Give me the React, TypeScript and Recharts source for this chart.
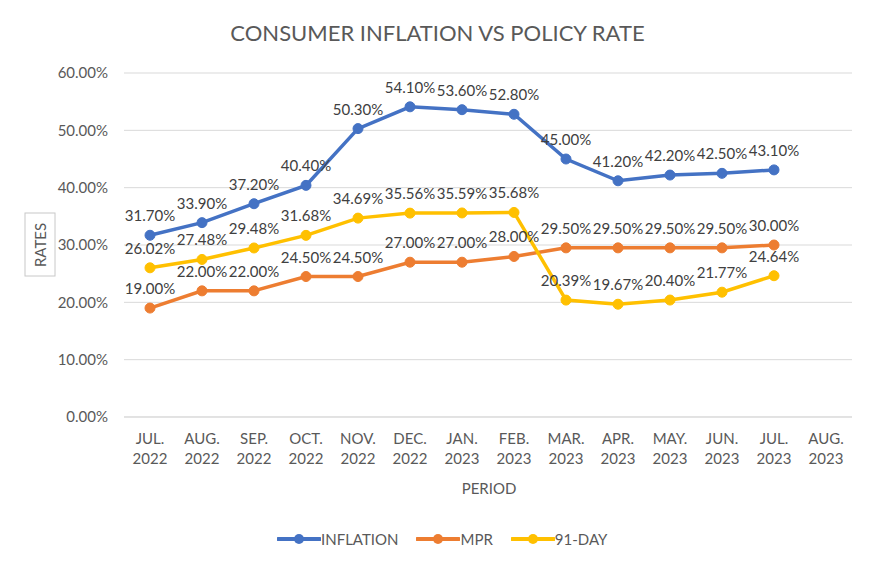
import React from 'react';
import { LineChart, Line, XAxis, YAxis, CartesianGrid, LabelList } from 'recharts';

const FONT = 'Lato, "Open Sans", sans-serif';

const periods = [
  'JUL. 2022', 'AUG. 2022', 'SEP. 2022', 'OCT. 2022', 'NOV. 2022', 'DEC. 2022', 'JAN. 2023',
  'FEB. 2023', 'MAR. 2023', 'APR. 2023', 'MAY. 2023', 'JUN. 2023', 'JUL. 2023', 'AUG. 2023'
];
const inflation = [31.7, 33.9, 37.2, 40.4, 50.3, 54.1, 53.6, 52.8, 45.0, 41.2, 42.2, 42.5, 43.1, null];
const mpr = [19.0, 22.0, 22.0, 24.5, 24.5, 27.0, 27.0, 28.0, 29.5, 29.5, 29.5, 29.5, 30.0, null];
const tbill91 = [26.02, 27.48, 29.48, 31.68, 34.69, 35.56, 35.59, 35.68, 20.39, 19.67, 20.4, 21.77, 24.64, null];
const yTicks = [0, 10, 20, 30, 40, 50, 60];

const series = [
  { key: 'inflation', name: 'INFLATION', color: '#4472C4' },
  { key: 'mpr', name: 'MPR', color: '#ED7D31' },
  { key: 'tbill91', name: '91-DAY', color: '#FFC000' }
];

const data = periods.map((period, i) => ({
  period,
  inflation: inflation[i],
  mpr: mpr[i],
  tbill91: tbill91[i]
}));

const pct = (v: any) => (v == null ? '' : `${Number(v).toFixed(2)}%`);

const PeriodTick = (props: any) => {
  const { x, y, payload } = props;
  const [month, year] = String(payload.value).split(' ');
  return (
    <text x={x} y={y} textAnchor="middle" fill="#595959" fontSize={15} fontFamily={FONT}>
      <tspan x={x} dy={19}>{month}</tspan>
      <tspan x={x} dy={20}>{year}</tspan>
    </text>
  );
};

const LegendItem = ({ name, color }: { name: string; color: string }) => (
  <div style={{ display: 'flex', alignItems: 'center', marginRight: 18 }}>
    <svg width={44} height={12}>
      <line x1={1} y1={6} x2={43} y2={6} stroke={color} strokeWidth={4} strokeLinecap="round" />
      <circle cx={22} cy={6} r={5} fill={color} />
    </svg>
    <span style={{ fontSize: 15, color: '#595959', fontFamily: FONT }}>{name}</span>
  </div>
);

export default function App() {
  return (
    <div style={{ position: 'relative', width: 875, height: 562, background: '#fff', margin: -8, overflow: 'hidden' }}>
      <LineChart width={875} height={562} data={data} margin={{ top: 73, right: 23, bottom: 95, left: 54 }}>
        <CartesianGrid vertical={false} stroke="#d9d9d9" />
        <XAxis
          dataKey="period"
          tick={<PeriodTick />}
          tickLine={false}
          axisLine={{ stroke: '#d9d9d9' }}
          padding={{ left: 26, right: 26 }}
          interval={0}
          height={50}
        />
        <YAxis
          domain={[0, 60]}
          ticks={yTicks}
          tickFormatter={pct}
          tickLine={false}
          axisLine={false}
          tickMargin={10}
          width={70}
          tick={{ fill: '#595959', fontSize: 15, fontFamily: FONT }}
        />
        {series.map((s) => (
          <Line
            key={s.key}
            type="linear"
            dataKey={s.key}
            name={s.name}
            stroke={s.color}
            strokeWidth={3.5}
            dot={{ r: 5, fill: s.color, stroke: s.color, strokeWidth: 1 }}
            isAnimationActive={false}
          >
            <LabelList
              dataKey={s.key}
              position="top"
              offset={14}
              formatter={pct}
              fill="#404040"
              fontSize={15}
              fontFamily={FONT}
            />
          </Line>
        ))}
      </LineChart>

      <div style={{ position: 'absolute', top: 19, left: 0, width: 875, textAlign: 'center', fontSize: 22, color: '#595959', fontFamily: FONT }}>
        CONSUMER INFLATION VS POLICY RATE
      </div>

      <svg style={{ position: 'absolute', left: 0, top: 0 }} width={875} height={562} pointerEvents="none">
        <rect x={25} y={213} width={30} height={63} fill="none" stroke="#c8c8c8" strokeWidth={1} />
        <text x={40} y={245} transform="rotate(-90 40 245)" textAnchor="middle" dominantBaseline="central" fontSize={15} fill="#595959" fontFamily={FONT}>
          RATES
        </text>
        <text x={489} y={494} textAnchor="middle" fontSize={15} fill="#595959" fontFamily={FONT}>
          PERIOD
        </text>
      </svg>

      <div style={{ position: 'absolute', top: 530, left: 277, display: 'flex' }}>
        {series.map((s) => (
          <LegendItem key={s.key} name={s.name} color={s.color} />
        ))}
      </div>

      {/* dark frame on left, top and right */}
      <div style={{ position: 'absolute', left: 0, top: 0, width: 3, height: 562, background: '#2b2b2b' }} />
      <div style={{ position: 'absolute', left: 0, top: 0, width: 875, height: 2, background: '#2b2b2b' }} />
      <div style={{ position: 'absolute', left: 871, top: 0, width: 4, height: 562, background: '#2b2b2b' }} />
    </div>
  );
}
